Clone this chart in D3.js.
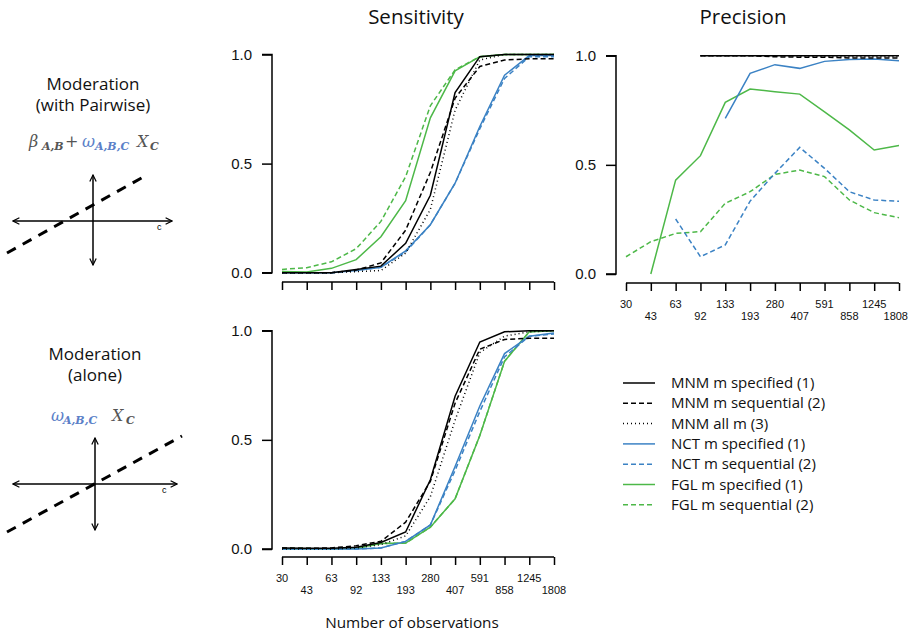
<!DOCTYPE html>
<html>
<head>
<meta charset="utf-8">
<script src="https://cdn.jsdelivr.net/npm/d3@7"></script>
<style>
  body { margin: 0; background: #fff; }
  text { font-family: "Liberation Sans", Arial, sans-serif; }
  .ttl { font-family: "Open Sans", "Noto Sans", sans-serif; }
  .math { font-family: "DejaVu Serif", "Liberation Serif", serif; font-style: italic; }
</style>
</head>
<body>
<div id="chart"></div>
<script>
const nObs = ["30", "43", "63", "92", "133", "193", "280", "407", "591", "858", "1245", "1808"];

const seriesInfo = [
  { key: "mnmSpec", label: "MNM m specified (1)", color: "#000000", dash: null },
  { key: "mnmSeq", label: "MNM m sequential (2)", color: "#000000", dash: "5,3" },
  { key: "mnmAll", label: "MNM all m (3)", color: "#000000", dash: "1,3" },
  { key: "nctSpec", label: "NCT m specified (1)", color: "#3b82c4", dash: null },
  { key: "nctSeq", label: "NCT m sequential (2)", color: "#3b82c4", dash: "5,3" },
  { key: "fglSpec", label: "FGL m specified (1)", color: "#4db848", dash: null },
  { key: "fglSeq", label: "FGL m sequential (2)", color: "#4db848", dash: "5,3" }
];

// Sensitivity, moderation with pairwise
const sensPair = {
  mnmSpec: [0, 0, 0, 0.015, 0.03, 0.135, 0.355, 0.825, 0.99, 1, 1, 1],
  mnmSeq:  [0, 0, 0, 0.012, 0.045, 0.195, 0.46, 0.80, 0.945, 0.975, 0.98, 0.98],
  mnmAll:  [0, 0, 0, 0.005, 0.01, 0.09, 0.29, 0.745, 0.975, 1, 1, 1],
  nctSpec: [0, 0, 0, 0.01, 0.025, 0.10, 0.22, 0.41, 0.67, 0.905, 0.995, 0.995],
  nctSeq:  [0, 0, 0, 0.01, 0.025, 0.095, 0.22, 0.41, 0.66, 0.89, 0.99, 0.99],
  fglSpec: [0.005, 0.003, 0.02, 0.06, 0.165, 0.33, 0.71, 0.925, 0.99, 1, 1, 1],
  fglSeq:  [0.015, 0.023, 0.05, 0.11, 0.235, 0.44, 0.765, 0.93, 0.99, 1, 1, 1]
};

// Precision, moderation with pairwise (null = not defined)
const precPair = {
  mnmSpec: [null, null, null, 1, 1, 1, 1, 1, 1, 1, 1, 1],
  mnmSeq:  [null, null, null, 1, 1, 1, 0.995, 0.993, 0.993, 0.99, 0.99, 0.99],
  mnmAll:  [null, null, null, 1, 1, 1, 1, 0.998, 0.997, 0.995, 0.995, 0.995],
  nctSpec: [null, null, null, null, 0.713, 0.919, 0.959, 0.942, 0.974, 0.983, 0.985, 0.977],
  nctSeq:  [null, null, 0.252, 0.079, 0.133, 0.334, 0.461, 0.58, 0.484, 0.377, 0.339, 0.333],
  fglSpec: [null, 0, 0.43, 0.542, 0.786, 0.847, 0.835, 0.824, 0.743, 0.66, 0.568, 0.589],
  fglSeq:  [0.079, 0.148, 0.186, 0.194, 0.324, 0.377, 0.456, 0.476, 0.446, 0.339, 0.281, 0.258]
};

// Sensitivity, moderation alone
const sensAlone = {
  mnmSpec: [0.005, 0.003, 0.003, 0.008, 0.03, 0.078, 0.317, 0.70, 0.948, 0.995, 1, 1],
  mnmSeq:  [0.005, 0.003, 0.005, 0.015, 0.035, 0.123, 0.31, 0.668, 0.915, 0.96, 0.965, 0.965],
  mnmAll:  [0, 0, 0, 0.005, 0.02, 0.06, 0.24, 0.59, 0.90, 0.975, 0.995, 1],
  nctSpec: [0, 0, 0, 0, 0.005, 0.035, 0.11, 0.378, 0.655, 0.895, 0.975, 0.99],
  nctSeq:  [0, 0, 0, 0, 0.005, 0.035, 0.11, 0.36, 0.63, 0.88, 0.975, 0.985],
  fglSpec: [0, 0, 0, 0.003, 0.025, 0.027, 0.10, 0.23, 0.52, 0.86, 0.995, 1],
  fglSeq:  [0.003, 0.003, 0, 0.003, 0.025, 0.027, 0.10, 0.23, 0.52, 0.86, 0.995, 1]
};

const yTicks = [0, 0.5, 1];

const svg = d3.select("#chart").append("svg")
  .attr("width", 909)
  .attr("height", 634);

function panel(data, x0, x1, yTop, yBot, axisY, showLabels) {
  const x = d3.scalePoint().domain(d3.range(nObs.length)).range([x0, x1]);
  const y = d3.scaleLinear().domain([0, 1]).range([yBot, yTop]);
  const g = svg.append("g");

  // y axis
  const ya = g.append("g")
    .attr("transform", `translate(${x0 - 10},0)`)
    .call(d3.axisLeft(y).tickValues(yTicks).tickFormat(d3.format(".1f")).tickSize(10).tickPadding(10));
  ya.select(".domain").attr("stroke-width", 1.5).attr("d", `M-10,${yBot}H0V${yTop}H-10`);
  ya.selectAll(".tick line").attr("stroke-width", 1.5);
  ya.selectAll(".tick text").attr("font-size", 15).attr("fill", "#111")
    .attr("font-family", "Liberation Sans, Arial, sans-serif");

  // x axis
  const xa = g.append("g")
    .attr("transform", `translate(0,${axisY})`)
    .call(d3.axisBottom(x).tickSize(8).tickFormat(""));
  xa.select(".domain").attr("stroke-width", 1.5).attr("d", `M${x0},0H${x1}`);
  xa.selectAll(".tick line").attr("stroke-width", 1.5);

  if (showLabels) {
    g.selectAll(".xl").data(nObs).enter().append("text")
      .attr("x", (d, i) => x(i))
      .attr("y", (d, i) => axisY + (i % 2 === 0 ? 25 : 37))
      .attr("text-anchor", "middle")
      .attr("font-size", 11)
      .attr("fill", "#111")
      .text(d => d)
      .each(function () {
        // keep labels inside the page
        const w = this.getComputedTextLength();
        const cx = +this.getAttribute("x");
        if (cx + w / 2 > 908) this.setAttribute("x", 908 - w / 2);
      });
  }

  const line = d3.line()
    .defined(d => d != null)
    .x((d, i) => x(i))
    .y(d => y(d));

  // draw so that black series sit on top
  const order = ["fglSeq", "fglSpec", "nctSeq", "nctSpec", "mnmAll", "mnmSeq", "mnmSpec"];
  order.forEach(k => {
    const s = seriesInfo.find(d => d.key === k);
    g.append("path")
      .datum(data[k])
      .attr("fill", "none")
      .attr("stroke", s.color)
      .attr("stroke-width", 1.5)
      .attr("stroke-dasharray", s.dash)
      .attr("d", line);
  });
}

panel(sensPair, 282, 554, 54.5, 272.7, 282, false);
panel(precPair, 626, 899, 55.7, 274, 283, true);
panel(sensAlone, 282, 554, 330.7, 549, 557, true);

// titles
svg.append("text").attr("class", "ttl").attr("x", 416).attr("y", 24)
  .attr("text-anchor", "middle").attr("font-size", 20.5).attr("fill", "#111").text("Sensitivity");
svg.append("text").attr("class", "ttl").attr("x", 743).attr("y", 24)
  .attr("text-anchor", "middle").attr("font-size", 20.5).attr("fill", "#111").text("Precision");
svg.append("text").attr("class", "ttl").attr("x", 412).attr("y", 628)
  .attr("text-anchor", "middle").attr("font-size", 15.3).attr("fill", "#111").text("Number of observations");

// legend
const lg = svg.append("g");
seriesInfo.forEach((s, i) => {
  const yy = 383 + i * 20.3;
  lg.append("line").attr("x1", 623).attr("x2", 655).attr("y1", yy).attr("y2", yy)
    .attr("stroke", s.color).attr("stroke-width", 1.5).attr("stroke-dasharray", s.dash);
  lg.append("text").attr("class", "ttl").attr("x", 671).attr("y", yy + 5)
    .attr("font-size", 15).attr("fill", "#111").text(s.label);
});

// left-side model diagrams
const arrowDefs = svg.append("defs");
arrowDefs.append("marker").attr("id", "arr").attr("viewBox", "0 0 10 10")
  .attr("refX", 9).attr("refY", 5).attr("markerWidth", 8).attr("markerHeight", 8)
  .attr("orient", "auto-start-reverse").attr("markerUnits", "userSpaceOnUse")
  .append("path").attr("d", "M1,1L9,5L1,9").attr("fill", "none").attr("stroke", "#000").attr("stroke-width", 1.5);

function diagram(cx, cy, hx0, hx1, vy0, vy1, lx0, ly0, lx1, ly1) {
  const g = svg.append("g");
  g.append("line").attr("x1", hx0).attr("x2", hx1).attr("y1", cy).attr("y2", cy)
    .attr("stroke", "#000").attr("stroke-width", 1.5)
    .attr("marker-start", "url(#arr)").attr("marker-end", "url(#arr)");
  g.append("line").attr("x1", cx).attr("x2", cx).attr("y1", vy0).attr("y2", vy1)
    .attr("stroke", "#000").attr("stroke-width", 1.5)
    .attr("marker-start", "url(#arr)").attr("marker-end", "url(#arr)");
  g.append("line").attr("x1", lx0).attr("y1", ly0).attr("x2", lx1).attr("y2", ly1)
    .attr("stroke", "#000").attr("stroke-width", 3).attr("stroke-dasharray", "10,8");
  g.append("text").attr("x", hx1 - 15).attr("y", cy + 9).attr("font-size", 9).text("c");
}

// formula pieces: [text, x, isSub, colour]
function formula(pieces, baseY) {
  pieces.forEach(p => {
    svg.append("text")
      .attr("class", p[2] ? "math sub" : "math")
      .attr("x", p[1])
      .attr("y", p[2] ? baseY + 3 : baseY)
      .attr("font-size", p[2] ? 11 : 16)
      .attr("font-weight", p[2] ? "bold" : null)
      .attr("font-style", p[0] === "+" ? "normal" : null)
      .attr("fill", p[3])
      .text(p[0]);
  });
}

const gray = "#555", blue = "#5b80c8";

svg.append("text").attr("class", "ttl").attr("x", 93).attr("y", 90)
  .attr("text-anchor", "middle").attr("font-size", 17).attr("fill", "#111").text("Moderation");
svg.append("text").attr("class", "ttl").attr("x", 93).attr("y", 111)
  .attr("text-anchor", "middle").attr("font-size", 17).attr("fill", "#111").text("(with Pairwise)");

formula([
  ["β", 29, false, gray], ["A,B", 42, true, gray], ["+", 65, false, gray],
  ["ω", 82, false, blue], ["A,B,C", 95, true, blue],
  ["X", 137, false, gray], ["C", 150, true, gray]
], 147);

diagram(93, 221, 13, 172, 175, 265, 7, 253, 145, 176);

svg.append("text").attr("class", "ttl").attr("x", 95).attr("y", 360)
  .attr("text-anchor", "middle").attr("font-size", 17).attr("fill", "#111").text("Moderation");
svg.append("text").attr("class", "ttl").attr("x", 95).attr("y", 381)
  .attr("text-anchor", "middle").attr("font-size", 17).attr("fill", "#111").text("(alone)");

formula([
  ["ω", 51, false, blue], ["A,B,C", 63, true, blue],
  ["X", 112, false, gray], ["C", 126, true, gray]
], 421);

diagram(95, 484, 13, 177, 438, 530, 7, 532, 182, 436);
</script>
</body>
</html>
